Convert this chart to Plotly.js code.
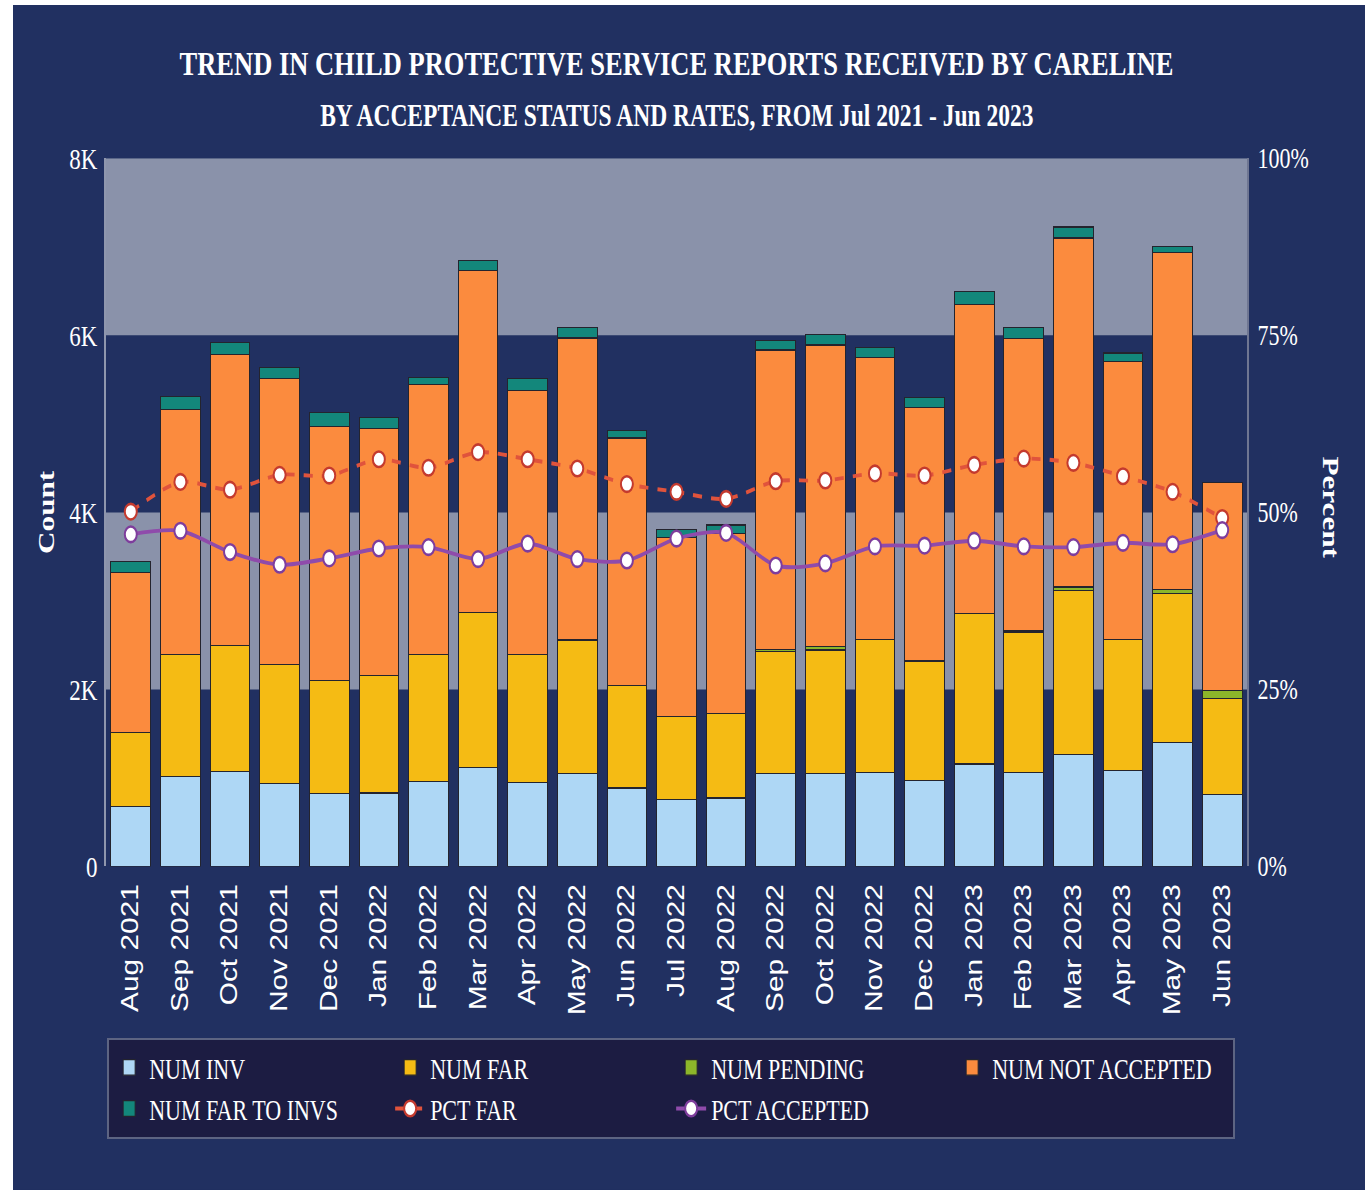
<!DOCTYPE html>
<html><head><meta charset="utf-8">
<script src="https://cdn.plot.ly/plotly-3.0.1.min.js"></script>
<style>
html,body{margin:0;padding:0;background:#ffffff;width:1365px;height:1190px;overflow:hidden;}
#wrap{position:absolute;left:13px;top:5px;width:1352px;height:1185px;background:#213061;overflow:hidden;}
#chart{position:absolute;left:0;top:0;width:1352px;height:912px;transform:scaleY(1.2993);transform-origin:0 0;}
</style></head><body><div id="wrap"><div id="chart"></div></div>
<script>
const months = ['Aug 2021','Sep 2021','Oct 2021','Nov 2021','Dec 2021','Jan 2022','Feb 2022','Mar 2022','Apr 2022','May 2022','Jun 2022','Jul 2022','Aug 2022','Sep 2022','Oct 2022','Nov 2022','Dec 2022','Jan 2023','Feb 2023','Mar 2023','Apr 2023','May 2023','Jun 2023'];
const numInv = [678,1017,1074,938,825,828,960,1119,949,1053,886,753,773,1053,1053,1058,974,1156,1058,1268,1081,1401,814];
const numFar = [836,1379,1424,1345,1277,1330,1435,1752,1446,1505,1162,940,954,1376,1392,1509,1348,1705,1587,1848,1480,1680,1087];
const numPending = [0,0,0,0,0,0,0,0,0,0,0,0,0,25,40,0,0,0,15,40,0,44,90];
const numNotAccepted = [1808,2768,3288,3232,2870,2788,3051,3865,2983,3411,2793,2027,2036,3382,3407,3185,2866,3489,3308,3945,3141,3813,2347];
const numFarToInvs = [124,142,136,124,155,124,79,113,131,121,84,84,95,108,118,108,108,147,123,122,98,68,0];
const pctFar = [50.1,54.3,53.2,55.3,55.2,57.5,56.3,58.5,57.5,56.2,54.0,52.9,51.9,54.4,54.5,55.5,55.2,56.7,57.6,57.0,55.1,52.9,49.2];
const pctAccepted = [46.9,47.4,44.4,42.6,43.5,44.9,45.1,43.4,45.6,43.4,43.2,46.3,47.1,42.5,42.8,45.2,45.3,46.0,45.2,45.1,45.7,45.5,47.5];
const countTicks = [0,2000,4000,6000,8000];
const countTickText = ['0','2K','4K','6K','8K'];
const pctTicks = [0,25,50,75,100];
const pctTickText = ['0%','25%','50%','75%','100%'];

const SERIF = 'Liberation Serif, Times New Roman, serif';
const SANS = 'Liberation Sans, Arial, sans-serif';
const outline = {color:'#24242e', width:1};

function bar(name, y, color){
  return {type:'bar', name:name, x:months, y:y, marker:{color:color, line:outline}, yaxis:'y'};
}
const traces = [
  bar('NUM INV', numInv, '#aed7f5'),
  bar('NUM FAR', numFar, '#f5bb14'),
  bar('NUM PENDING', numPending, '#8cb62a'),
  bar('NUM NOT ACCEPTED', numNotAccepted, '#fb8b3e'),
  bar('NUM FAR TO INVS', numFarToInvs, '#13877b'),
  {type:'scatter', mode:'lines+markers', name:'PCT FAR', x:months, y:pctFar, yaxis:'y2',
   line:{color:'#e0533c', width:3, dash:'dash', shape:'spline', smoothing:0.8},
   marker:{size:12, color:'#ffffff', line:{color:'#c43a2e', width:2}}},
  {type:'scatter', mode:'lines+markers', name:'PCT ACCEPTED', x:months, y:pctAccepted, yaxis:'y2',
   line:{color:'#8f4bab', width:3, shape:'spline', smoothing:0.8},
   marker:{size:12, color:'#ffffff', line:{color:'#7e3d9c', width:2}}}
];

const band = (a,b)=>({type:'rect', xref:'paper', x0:0, x1:1, yref:'y', y0:a, y1:b, fillcolor:'#8a92aa', line:{width:0}, layer:'below'});

const layout = {
  width:1352, height:912,
  paper_bgcolor:'#213061', plot_bgcolor:'#213061',
  margin:{l:93, r:118, t:118, b:249, autoexpand:false},
  barmode:'stack', bargap:0.2,
  showlegend:true,
  title:{text:'TREND IN CHILD PROTECTIVE SERVICE REPORTS RECEIVED BY CARELINE',
    font:{family:SERIF, size:26.5, color:'#ffffff', weight:'bold'},
    xref:'paper', x:0.5, xanchor:'center', yref:'container', y:0.951, yanchor:'middle'},
  xaxis:{type:'category', range:[-0.5, months.length-0.5], tickangle:-90, tickfont:{family:SANS, size:23, color:'#ffffff'},
    showgrid:false, zeroline:false, showline:false, ticks:'', ticklabelstandoff:8, fixedrange:true},
  yaxis:{range:[0,8000], tickvals:countTicks, ticktext:countTickText,
    tickfont:{family:SERIF, size:23, color:'#ffffff'}, showgrid:false, zeroline:false,
    showline:true, linecolor:'#8f96ad', linewidth:2, ticks:'', ticklabelstandoff:2,
    title:{text:'Count', font:{family:SERIF, size:24, color:'#ffffff', weight:'bold'}, standoff:8}},
  yaxis2:{range:[0,100], overlaying:'y', side:'right', tickvals:pctTicks, ticktext:pctTickText,
    tickfont:{family:SERIF, size:22, color:'#ffffff'}, showgrid:false, zeroline:false,
    showline:true, linecolor:'#6f7692', linewidth:2, ticks:'', ticklabelstandoff:4},
  shapes:[band(2000,4000), band(6000,8000)],
  annotations:[
    {text:'BY ACCEPTANCE STATUS AND RATES, FROM Jul 2021 - Jun 2023', xref:'paper', yref:'paper',
     x:0.5, y:1.061, xanchor:'center', yanchor:'middle', showarrow:false,
     font:{family:SERIF, size:23.5, color:'#ffffff', weight:'bold'}},
    {text:'Percent', xref:'paper', yref:'paper', x:1.0736, y:0.5075, xanchor:'center', yanchor:'middle',
     textangle:90, showarrow:false, font:{family:SERIF, size:24, color:'#ffffff', weight:'bold'}}
  ],
  legend:{orientation:'h', x:0.001, xanchor:'left', y:-0.242, yanchor:'top', traceorder:'normal',
    bgcolor:'#1c1c42', bordercolor:'#5d6482', borderwidth:2,
    entrywidth:236, entrywidthmode:'pixels',
    font:{family:SERIF, size:22, color:'#ffffff'}}
};

Plotly.newPlot('chart', traces, layout, {displayModeBar:false, staticPlot:true});
</script>
</body></html>
